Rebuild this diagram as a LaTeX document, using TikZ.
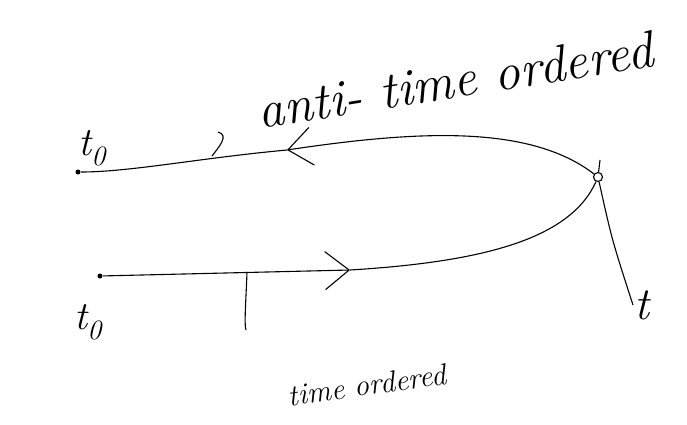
\documentclass[tikz,border=0pt]{standalone}
\usepackage{amsmath}
\usepackage{tikz}
\usetikzlibrary{arrows.meta,positioning,calc}

\begin{document}
\begin{tikzpicture}[x=1pt,y=-1pt,line width=1.1pt,
    barb/.style={-{Straight Barb[length=24pt,width=38pt,line width=1.1pt]}},
    hand/.style={font=\itshape\fontsize{#1}{#1}\selectfont, inner sep=1pt}]
    \useasboundingbox (0,0) rectangle (687,424);

    % End points of the contour
    \node[circle, fill=black, inner sep=0pt, minimum size=5pt] (udot) at (78,172) {};
    \node[circle, fill=black, inner sep=0pt, minimum size=5pt] (ldot) at (100,276) {};
    \node[circle, draw, inner sep=0pt, minimum size=9pt] (junc) at (598,177) {};
    \coordinate (umid) at (287,150);
    \coordinate (lmid) at (350,270);

    % Forward branch
    \draw[barb] (ldot) -- (lmid);
    \draw (lmid) .. controls (480,262) and (570,240) .. (junc);

    % Backward branch
    \draw[barb] (junc) .. controls (530,125) and (420,130) .. (umid);
    \draw (umid) .. controls (200,158) and (130,172) .. (udot);

    % Labels
    \node[hand=40] (tup) at (92,148) {t\textsubscript{0}};
    \node[hand=40] (tlow) at (88,322) {t\textsubscript{0}};
    \node[hand=46] (tend) at (642,305) {t};
    \node[hand=52, rotate=9] (anti) at (455,80) {anti- time ordered};
    \node[hand=30, rotate=8] (fwd) at (367,385) {time ordered};

    % Leaders
    \coordinate (jtop) at (600,160);
    \coordinate (uhook) at (212,156);
    \coordinate (lhook) at (247,272);
    \draw (tend.west) .. controls (612,240) .. (junc) -- (jtop);
    \draw (uhook) .. controls (218,148) and (230,135) .. (218,132);
    \draw (lhook) .. controls (246,300) and (244,325) .. (246,330);
\end{tikzpicture}
\end{document}
